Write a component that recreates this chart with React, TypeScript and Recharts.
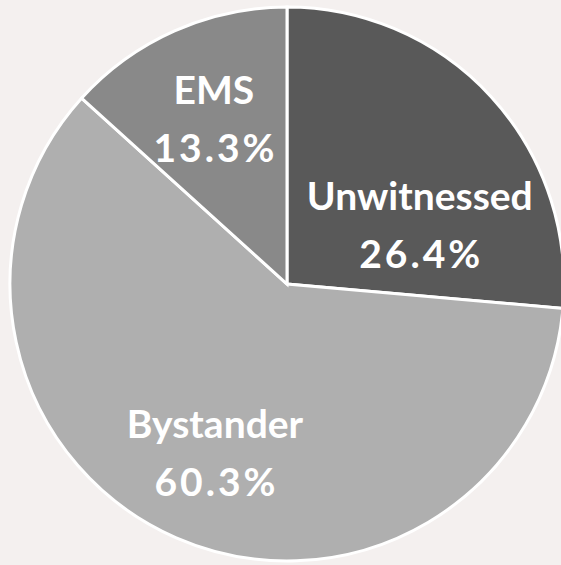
import React from 'react';
import { PieChart, Pie, Cell } from 'recharts';

const categories = ['Unwitnessed', 'Bystander', 'EMS'];
const shares = [26.4, 60.3, 13.3];
const colors = ['#595959', '#afafaf', '#898989'];
const labelDy = [64, 5, 1];

const data = categories.map((name, i) => ({ name, value: shares[i] }));

const RADIAN = Math.PI / 180;

const renderLabel = (props: any) => {
  const { cx, cy, midAngle, outerRadius, index, name, value } = props;
  const r = outerRadius * 0.65;
  const x = cx + r * Math.cos(-midAngle * RADIAN);
  const y = cy + r * Math.sin(-midAngle * RADIAN) + labelDy[index];
  return (
    <g>
      <text
        x={x}
        y={y - 16}
        fill="#ffffff"
        textAnchor="middle"
        fontFamily="Lato, sans-serif"
        fontWeight={700}
        fontSize={39}
      >
        {name}
      </text>
      <text
        x={x + 1.5}
        y={y + 42}
        fill="#ffffff"
        textAnchor="middle"
        fontFamily="Lato, sans-serif"
        fontWeight={700}
        fontSize={39}
        letterSpacing={3}
      >
        {Number(value).toFixed(1)}%
      </text>
    </g>
  );
};

export default function App() {
  return (
    <div style={{ position: 'fixed', left: 0, top: 0, width: 561, height: 565, background: '#f4f0ef' }}>
      <PieChart width={561} height={565} margin={{ top: 0, right: 0, bottom: 0, left: 0 }}>
        <Pie
          data={data}
          dataKey="value"
          nameKey="name"
          cx={287}
          cy={284}
          outerRadius={277}
          startAngle={90}
          endAngle={-270}
          stroke="#ffffff"
          strokeWidth={3}
          label={renderLabel}
          labelLine={false}
          isAnimationActive={false}
        >
          {data.map((d, i) => (
            <Cell key={d.name} fill={colors[i]} />
          ))}
        </Pie>
      </PieChart>
    </div>
  );
}
